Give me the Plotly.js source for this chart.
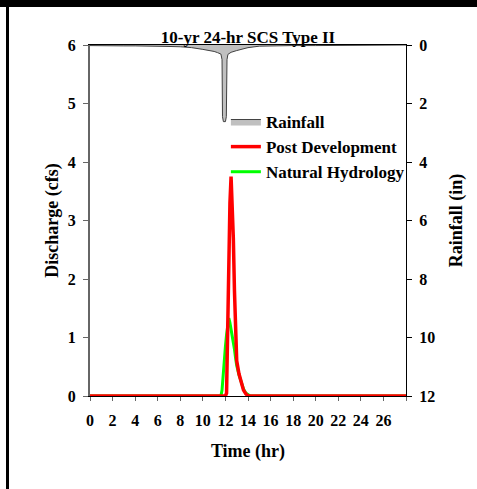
<!DOCTYPE html>
<html>
<head>
<meta charset="utf-8">
<script src="https://cdn.plot.ly/plotly-3.0.1.min.js"></script>
<style>
html,body{margin:0;padding:0;background:#fff;}
#wrap{position:relative;width:477px;height:489px;overflow:hidden;}
#chart{position:absolute;left:0;top:0;width:477px;height:489px;}
#topbar{position:absolute;left:0;top:0;width:477px;height:7px;background:#000;}
#leftbar{position:absolute;left:6px;top:0;width:3px;height:489px;background:#000;}
</style>
</head>
<body>
<div id="wrap">
<div id="chart"></div>
<div id="topbar"></div>
<div id="leftbar"></div>
</div>
<script>
// Rainfall hyetograph (in), hanging from top axis
const rainTime = [0,1,2,3,4,5,6,7,8,9,10,10.5,11,11.3,11.6,11.7,11.74,11.82,12.0,12.08,12.14,12.22,12.5,13,13.5,14,15,16,17,18,20,22,24,28];
const rainDepth = [0.02,0.03,0.03,0.03,0.03,0.03,0.04,0.05,0.06,0.09,0.15,0.18,0.22,0.26,0.31,0.5,2.45,2.62,2.62,2.45,0.5,0.32,0.25,0.19,0.14,0.09,0.04,0.03,0.02,0.02,0.02,0.01,0,0];

// Post development hydrograph (cfs)
const postTime = [0,11.9,12.0,12.1,12.2,12.3,12.4,12.5,12.6,12.7,12.8,12.9,13.0,13.2,13.4,13.6,13.8,14.0,28];
const postFlow = [0,0,0,0.05,1.2,2.4,3.3,3.75,3.3,2.7,1.8,0.95,0.6,0.38,0.22,0.1,0.04,0,0];

// Natural hydrology hydrograph (cfs)
const natTime = [0,11.6,11.7,11.8,11.9,12.0,12.1,12.2,12.3,12.4,12.5,12.6,12.7,12.8,12.9,13.0,13.2,13.4,13.6,13.8,14.0,14.2,28];
const natFlow = [0,0,0.1,0.4,0.65,0.85,1.05,1.22,1.33,1.25,1.15,1.05,0.95,0.8,0.65,0.52,0.36,0.22,0.12,0.05,0.02,0,0];

const xTickVals = [0,2,4,6,8,10,12,14,16,18,20,22,24,26,28];
const xTickText = ['0','2','4','6','8','10','12','14','16','18','20','22','24','26',''];
const yTickVals = [0,1,2,3,4,5,6];
const y2TickVals = [0,2,4,6,8,10,12];

const traces = [
  {x: rainTime, y: rainDepth, yaxis: 'y2', type: 'scatter', mode: 'lines', name: 'Rainfall',
   fill: 'tozeroy', fillcolor: '#c0c0c0', line: {color: '#404040', width: 1}, legendrank: 1},
  {x: natTime, y: natFlow, type: 'scatter', mode: 'lines', name: 'Natural Hydrology',
   line: {color: '#00ff00', width: 3}, legendrank: 3},
  {x: postTime, y: postFlow, type: 'scatter', mode: 'lines', name: 'Post Development',
   line: {color: '#ff0000', width: 3.5}, legendrank: 2}
];

const fam = 'Liberation Serif, serif';
const font = {family: fam, size: 16, weight: 'bold', color: '#000'};
const titleFont = {family: fam, size: 18, weight: 'bold', color: '#000'};

const layout = {
  width: 477, height: 489,
  margin: {l: 90, r: 71, t: 45, b: 93},
  paper_bgcolor: 'rgba(0,0,0,0)', plot_bgcolor: '#fff',
  font: font,
  showlegend: true,
  title: {text: '10-yr 24-hr SCS Type II', x: 0.5, xref: 'paper', y: 1 - 37/489, yref: 'container', yanchor: 'middle', xanchor: 'center',
          font: {family: fam, size: 17, weight: 'bold', color: '#000'}},
  legend: {x: 0.43, y: 0.832, xanchor: 'left', yanchor: 'top', bgcolor: 'rgba(0,0,0,0)', tracegroupgap: 0,
           font: {family: fam, size: 17, weight: 'bold', color: '#000'}},
  xaxis: {range: [0, 28], tickvals: xTickVals, ticktext: xTickText, ticks: 'outside', ticklen: 4, tickcolor: '#666',
          ticklabelstandoff: 6,
          showgrid: false, zeroline: false, showline: true, linecolor: '#000', linewidth: 1, mirror: true,
          title: {text: 'Time (hr)', standoff: 16, font: titleFont}},
  yaxis: {range: [0, 6], tickvals: yTickVals, ticks: 'outside', ticklen: 5, tickcolor: '#666',
          ticklabelstandoff: 4,
          showgrid: false, zeroline: false, showline: true, linecolor: '#666', linewidth: 2,
          title: {text: 'Discharge (cfs)', standoff: 4, font: titleFont}},
  yaxis2: {range: [12, 0], tickvals: y2TickVals, overlaying: 'y', side: 'right', ticks: 'outside', ticklen: 5, tickcolor: '#000',
           ticklabelstandoff: 4,
           showgrid: false, zeroline: false, showline: true, linecolor: '#000', linewidth: 1,
           title: {text: 'Rainfall (in)', standoff: 15, font: titleFont}}
};

Plotly.newPlot('chart', traces, layout, {displayModeBar: false, staticPlot: true});
</script>
</body>
</html>
